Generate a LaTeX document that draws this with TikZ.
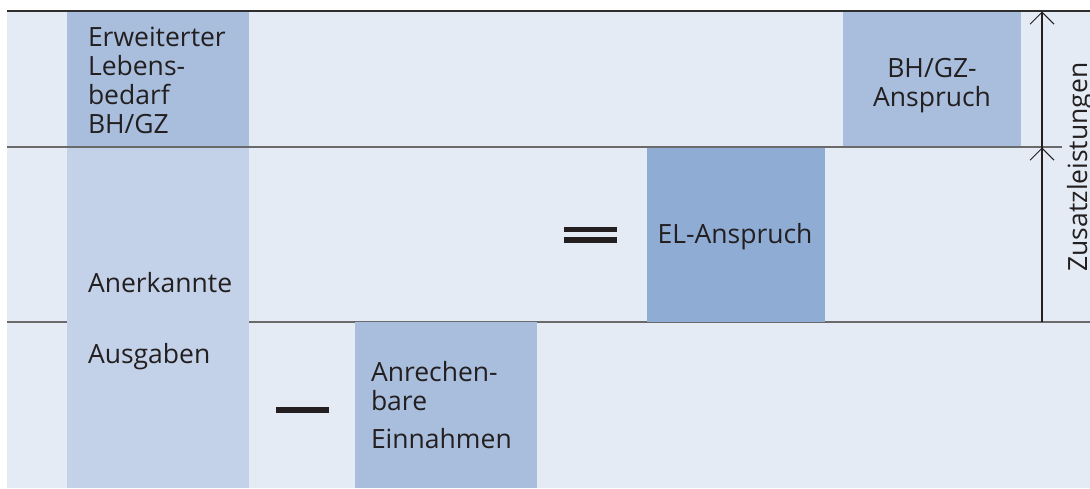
\documentclass[tikz,border=0pt]{standalone}
\usepackage{fontspec}
\setmainfont{Open Sans}
\usetikzlibrary{arrows.meta}
\definecolor{bgc}{HTML}{E4EBF5}
\definecolor{midc}{HTML}{A8BEDC}
\definecolor{lightc}{HTML}{C3D2E8}
\definecolor{darkc}{HTML}{8FACD4}
\definecolor{linec}{HTML}{6A6A6A}
\definecolor{topc}{HTML}{2E2E2E}
\definecolor{inkc}{HTML}{231F20}
\tikzset{
  lbl/.style={inner sep=0pt, outer sep=0pt, text=inkc, font=\fontsize{26.5}{29}\selectfont, align=left},
  sepline/.style={draw=linec, line width=1.5pt},
  barb/.style={-{Straight Barb[length=12pt,width=24pt,line width=1pt]}, line width=1.2pt, draw=inkc},
}
\begin{document}
\begin{tikzpicture}[x=1pt,y=-1pt]
\useasboundingbox (0,0) rectangle (1090,488);
% background
\fill[bgc] (7,11) rectangle (1090,488);
% line between middle and bottom band
\draw[sepline] (7,322) -- (1090,322);
% boxes
\fill[midc] (67,11) rectangle (249,147);
\fill[lightc] (67,147) rectangle (249,488);
\fill[midc] (843,11) rectangle (1021,147);
\fill[darkc] (647,147) rectangle (825,322);
\fill[midc] (355,322) rectangle (537,488);
% separators
\draw[sepline] (7,147) -- (1062,147);
\draw[draw=topc, line width=2pt] (7,11) -- (1090,11);
% operators
\fill[inkc] (564,226.5) rectangle (617,232);
\fill[inkc] (564,237) rectangle (617,242.5);
\fill[inkc] (276,407) rectangle (329,413);
% texts (multi-line nodes: base = last line)
\node[lbl, anchor=base west] (erw) at (88,133) {Erweiterter\\Lebens-\\bedarf\\BH/GZ};
\node[lbl, anchor=base west] (ane) at (88,292) {Anerkannte};
\node[lbl, anchor=base west] (ausg) at (88,363) {Ausgaben};
\node[lbl, anchor=base, align=center] (bhgz) at (932,106) {BH/GZ-\\Anspruch};
\node[lbl, anchor=base] (el) at (735,243) {EL-Anspruch};
\node[lbl, anchor=base west] (anr) at (371,410) {Anrechen-\\bare};
\node[lbl, anchor=base west] (einn) at (371,448) {Einnahmen};
\node[lbl, anchor=base, rotate=90] (zus) at (1087,167) {Zusatzleistungen};
% arrows
\coordinate (zb) at (1042,322);
\coordinate (zm) at (1042,147.5);
\coordinate (zt) at (1042,11.5);
\draw[barb] (zb) -- (zt);
\draw[barb] (zb) -- (zm);
\end{tikzpicture}
\end{document}
